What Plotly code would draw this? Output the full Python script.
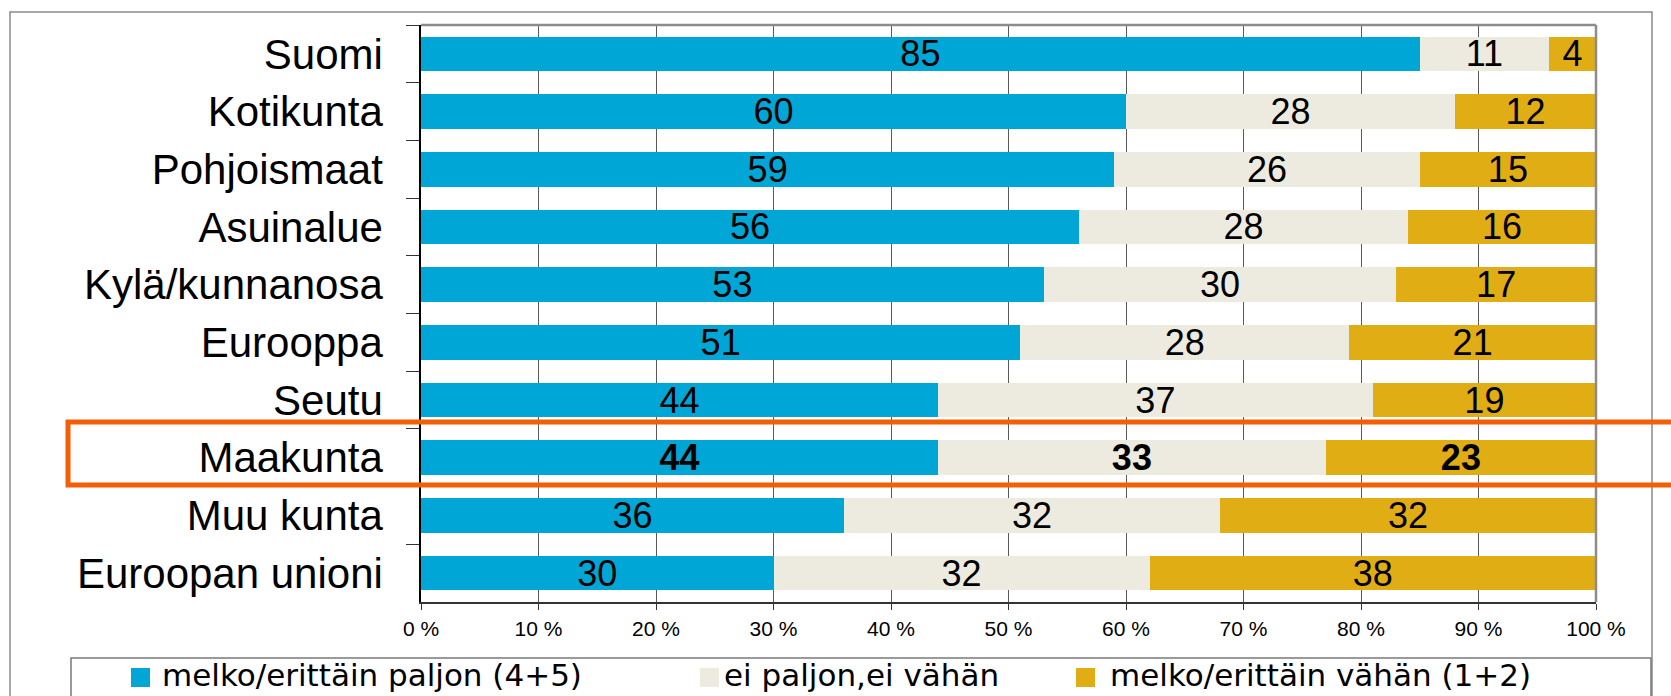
import plotly.graph_objects as go

categories = ["Suomi", "Kotikunta", "Pohjoismaat", "Asuinalue", "Kylä/kunnanosa",
              "Eurooppa", "Seutu", "Maakunta", "Muu kunta", "Euroopan unioni"]
series_names = ["melko/erittäin paljon (4+5)", "ei paljon,ei vähän", "melko/erittäin vähän (1+2)"]
much = [85, 60, 59, 56, 53, 51, 44, 44, 36, 30]
neutral = [11, 28, 26, 28, 30, 28, 37, 33, 32, 32]
little = [4, 12, 15, 16, 17, 21, 19, 23, 32, 38]
tick_vals = [0, 10, 20, 30, 40, 50, 60, 70, 80, 90, 100]
tick_text = ["0 %", "10 %", "20 %", "30 %", "40 %", "50 %", "60 %", "70 %", "80 %", "90 %", "100 %"]
highlight = "Maakunta"

colors = ["#00A7D6", "#EDEBE0", "#E1AD14"]

W_PX, H_PX = 1671, 696
L, R, T, B = 421, 1596, 25, 602
PW, PH = R - L, B - T


def px(x):
    return (x - L) / PW


def py(y):
    return (B - y) / PH


fig = go.Figure()
for name, vals, col in zip(series_names, [much, neutral, little], colors):
    txt = [f"<b>{v}</b>" if c == highlight else str(v) for c, v in zip(categories, vals)]
    fig.add_trace(go.Bar(
        y=categories, x=vals, name=name, orientation="h",
        marker=dict(color=col, line=dict(width=0)),
        text=txt, textposition="inside", insidetextanchor="middle",
        textangle=0, constraintext="none",
        textfont=dict(family="Liberation Sans, Arial, sans-serif", size=36, color="black"),
        width=0.6, showlegend=False, hoverinfo="skip",
    ))

shapes = []
# outer frame
shapes.append(dict(type="rect", xref="paper", yref="paper",
                   x0=px(10), x1=px(1652), y0=py(720), y1=py(12),
                   line=dict(color="#8a8a8a", width=1.5), layer="below"))
# top & right border of plot area
shapes.append(dict(type="line", xref="paper", yref="paper", x0=0, x1=1, y0=1, y1=1,
                   line=dict(color="#8c8c8c", width=2.5)))
shapes.append(dict(type="line", xref="paper", yref="paper", x0=1, x1=1, y0=0, y1=1,
                   line=dict(color="#8c8c8c", width=2.5)))
# legend box
shapes.append(dict(type="rect", xref="paper", yref="paper",
                   x0=px(71), x1=px(1651), y0=py(720), y1=py(658),
                   line=dict(color="#7a7a7a", width=1.5)))
# highlight box
shapes.append(dict(type="rect", xref="paper", yref="paper",
                   x0=px(68), x1=px(1700), y0=py(485), y1=py(422),
                   line=dict(color="#F25F06", width=5)))

annotations = []
leg_swatch_x = [131, 700, 1076]
leg_text_x = [160, 722, 1108]
for name, col, sx, tx in zip(series_names, colors, leg_swatch_x, leg_text_x):
    shapes.append(dict(type="rect", xref="paper", yref="paper",
                       x0=px(sx), x1=px(sx + 19), y0=py(687), y1=py(668),
                       fillcolor=col, line=dict(width=0)))
    annotations.append(dict(xref="paper", yref="paper", x=px(tx), y=py(675),
                            xanchor="left", yanchor="middle", showarrow=False,
                            text=name,
                            font=dict(family="DejaVu Sans, Verdana, sans-serif", size=31, color="black")))

fig.update_layout(
    width=W_PX, height=H_PX,
    margin=dict(l=L, r=W_PX - R, t=T, b=H_PX - B, autoexpand=False),
    barmode="stack", bargap=0.4,
    paper_bgcolor="white", plot_bgcolor="white",
    shapes=shapes, annotations=annotations,
    showlegend=False,
    xaxis=dict(range=[0, 100], tickvals=tick_vals, ticktext=tick_text,
               showgrid=True, gridcolor="#5a5a5a", gridwidth=1,
               showline=True, linecolor="#333333", linewidth=2,
               ticks="outside", ticklen=6, tickcolor="#333333",
               tickfont=dict(family="Liberation Sans, Arial, sans-serif",
                             size=21, color="black"),
               ticklabelstandoff=1, zeroline=False, fixedrange=True),
    yaxis=dict(categoryorder="array", categoryarray=categories, autorange="reversed",
               showline=True, linecolor="black", linewidth=1.5,
               ticks="outside", ticklen=13, tickcolor="#333333", tickson="boundaries",
               tickfont=dict(family="Liberation Sans, Arial, sans-serif", size=42, color="black"),
               ticklabelstandoff=28, showgrid=False, fixedrange=True),
)

fig.write_html("out.html", config={"displayModeBar": False},
               post_script="document.body.style.margin='0';document.body.style.overflow='hidden';")
